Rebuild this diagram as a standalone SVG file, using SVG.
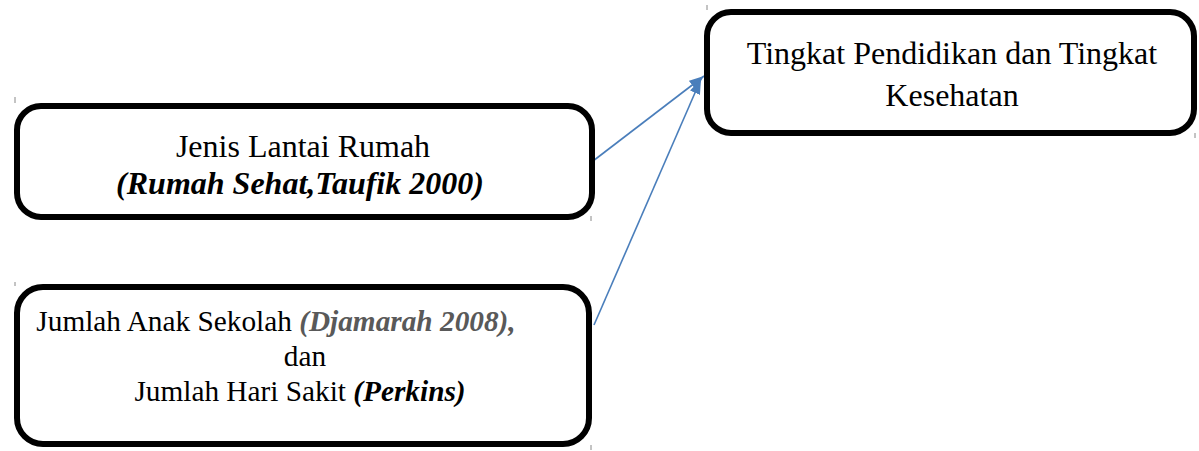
<svg xmlns="http://www.w3.org/2000/svg" width="1199" height="451" viewBox="0 0 1199 451">
  <defs>
    <marker id="arrow" viewBox="0 0 14 10" refX="14" refY="5" markerWidth="15" markerHeight="11" markerUnits="userSpaceOnUse" orient="auto">
      <path d="M0,0 L14,5 L0,10 Z" fill="#4a7ebb"/>
    </marker>
    <style>
      .box { fill: #ffffff; stroke: #000000; stroke-width: 6; }
      .t { font-family: "Liberation Serif", "Times New Roman", serif; fill: #000000; text-anchor: middle; }
      .bi { font-weight: bold; font-style: italic; }
      .conn { stroke: #4a7ebb; stroke-width: 1.6; fill: none; }
      .tick { stroke: #888888; stroke-width: 1; }
    </style>
  </defs>
  <rect width="1199" height="451" fill="#ffffff"/>

  <g id="connectors">
    <line class="conn" x1="593" y1="161" x2="704" y2="76" marker-end="url(#arrow)"/>
    <line class="conn" x1="594" y1="325" x2="701" y2="79" marker-end="url(#arrow)"/>
  </g>

  <g id="node-jenis-lantai">
    <rect class="box" x="17" y="106" width="575" height="111" rx="24"/>
    <line class="tick" x1="15" y1="97" x2="15" y2="103"/>
    <line class="tick" x1="591" y1="216" x2="591" y2="221"/>
    <text class="t" x="303" y="157" font-size="32">Jenis Lantai Rumah</text>
    <text class="t bi" x="300" y="194" font-size="32">(Rumah Sehat,Taufik 2000)</text>
  </g>

  <g id="node-jumlah">
    <rect class="box" x="17" y="287" width="572" height="157" rx="26"/>
    <line class="tick" x1="15" y1="282" x2="15" y2="286"/>
    <line class="tick" x1="591" y1="445" x2="591" y2="450"/>
    <text class="t" x="276" y="331" font-size="29.3">Jumlah Anak Sekolah <tspan class="bi" fill="#595959">(Djamarah 2008),</tspan></text>
    <text class="t" x="305" y="366" font-size="29.3">dan</text>
    <text class="t" x="300" y="401" font-size="29.3">Jumlah Hari Sakit <tspan class="bi">(Perkins)</tspan></text>
  </g>

  <g id="node-tingkat">
    <rect class="box" x="707" y="12" width="487" height="121" rx="24"/>
    <line class="tick" x1="707" y1="5" x2="707" y2="10"/>
    <line class="tick" x1="1195" y1="133" x2="1195" y2="138"/>
    <text class="t" x="952" y="64" font-size="32">Tingkat Pendidikan dan Tingkat</text>
    <text class="t" x="952" y="106" font-size="32">Kesehatan</text>
  </g>
</svg>
